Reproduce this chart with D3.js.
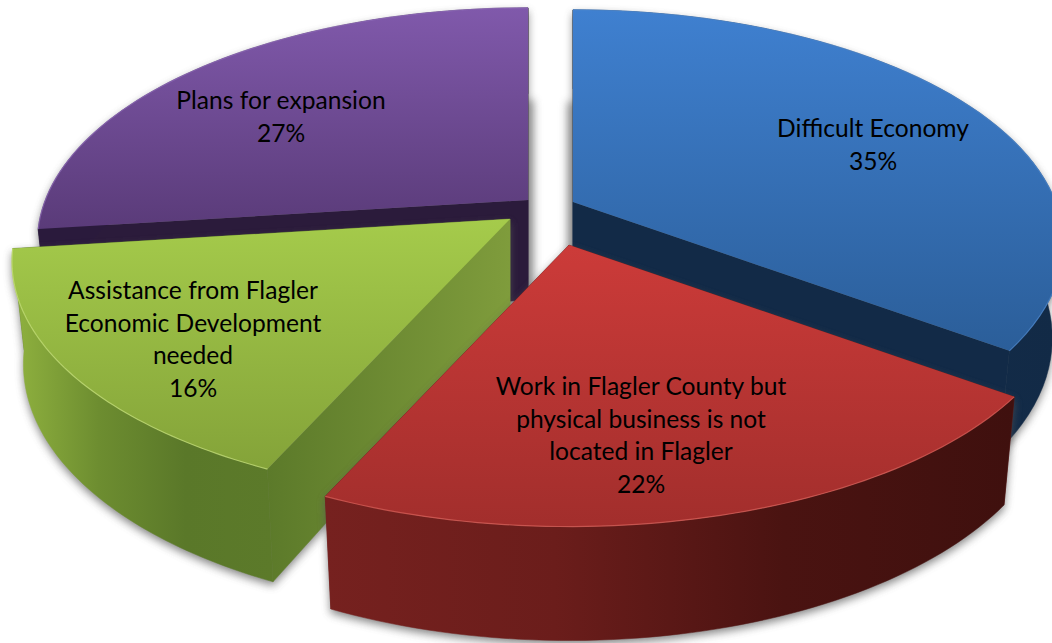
<!DOCTYPE html>
<html><head><meta charset="utf-8">
<script src="https://cdn.jsdelivr.net/npm/d3@7/dist/d3.min.js"></script>
<style>html,body{margin:0;padding:0;background:#fff;overflow:hidden}svg{display:block}</style>
</head><body><svg id="c" width="1052" height="643"></svg>
<script>
const categories = ["Difficult Economy","Work in Flagler County but physical business is not located in Flagler","Assistance from Flagler Economic Development needed","Plans for expansion"];
const values = [35,22,16,27];
const shares = [35,21.8,16.2,27];
const labelLines = [["Difficult Economy"],["Work in Flagler County but","physical business is not","located in Flagler"],["Assistance from Flagler","Economic Development","needed"],["Plans for expansion"]];
const apexX = [573,569,510,528];
const apexY = [202,245,219,200];
const radiusK = [0.985,1.005,1,0.985];
const depthK = [0.92,1,1,1];
const labelX = [873,641,193,281];
const labelY = [129,387,291,101];
const topColors = [["#3f80d0","#2b5e99"],["#cc3b39","#a22e2c"],["#a5cb4b","#84a339"],["#8059ab","#5a3b79"]];
const wallColors = [["#152f4f","#122a46"],["#76211f","#6b1d1b","#4a1311","#3f100e"],["#90b23f","#6d8d30","#5a7829","#5c7a2a"],["#2a1a3c","#2a1a3c"]];
const radialColors = [["#122a47","#122a47"],["#6b1d1b","#6b1d1b"],["#5c7a2a","#7f9c3c"],["#2b1b3b","#2b1b3b"]];
const edgeColors = ["#4b86cc","#d9605a","#c6e07a","#8f6bb8"];
const R = 490, RY = 230, P = 0.179, DEPTH = 100, DEPTH_V = 14, SHRINK = 0.977;

const svg = d3.select("#c");
const defs = svg.append("defs");
defs.append("filter").attr("id","sh").attr("x","-10%").attr("y","-10%").attr("width","120%").attr("height","120%")
  .append("feGaussianBlur").attr("stdDeviation",4);
const pie = d3.pie().sort(null).value(d=>d);
const arcs = pie(shares);
const line = d3.line();

function proj(i,a,r,bottom){
  const u = r*Math.sin(a), v = -r*Math.cos(a), s = 1/(1-P*v), k = radiusK[i];
  let dx = k*R*u*s, dy = k*RY*v*s;
  if(bottom){ dx*=SHRINK; dy += depthK[i]*(DEPTH+DEPTH_V*v); }
  return [apexX[i]+dx, apexY[i]+dy];
}
function rim(i,a0,a1,bottom){
  return d3.range(0,61).map(k=>proj(i,a0+(a1-a0)*k/60,1,bottom));
}
function grad(id,c,x1,y1,x2,y2){
  const g = defs.append("linearGradient").attr("id",id).attr("gradientUnits","userSpaceOnUse")
    .attr("x1",x1).attr("y1",y1).attr("x2",x2).attr("y2",y2);
  c.forEach((col,j)=>g.append("stop").attr("offset",j/(c.length-1)).attr("stop-color",col));
  return `url(#${id})`;
}
// soft shading in the gap between the two rear slices
svg.append("g").attr("filter","url(#sh)").attr("opacity",.6)
  .selectAll("rect").data([3,0]).join("rect")
  .attr("x",i=>apexX[i]-6).attr("width",12)
  .attr("y",i=>apexY[i]-100).attr("height",i=>200).attr("fill","#666");
const order = [3,0,2,1];
order.forEach(i=>{
  const a = arcs[i], g = svg.append("g");
  const top = rim(i,a.startAngle,a.endAngle,false), bot = rim(i,a.startAngle,a.endAngle,true);
  const c0 = proj(i,0,0,false), c1 = proj(i,0,0,true);
  const xs = top.concat(bot).map(p=>p[0]), ys = top.concat([c0]).map(p=>p[1]);
  const [xmin,xmax] = d3.extent(xs), [ymin,ymax] = d3.extent(ys);
  const wallF = grad("w"+i,wallColors[i],xmin,0,xmax,0);
  const radF = grad("r"+i,radialColors[i],top[0][0],0,c0[0],0);
  const topF = grad("t"+i,topColors[i],0,ymin,0,ymax);
  const walls = [
    [c0,top[0],bot[0],c1],
    [c0,top[60],bot[60],c1]
  ];
  const outer = top.concat(bot.slice().reverse());
  const face = [c0].concat(top);
  // soft shadow
  g.append("g").attr("filter","url(#sh)").attr("transform","translate(0,4)").attr("opacity",.7)
    .selectAll("path").data(walls.concat([outer,face])).join("path")
    .attr("d",d=>line(d)+"Z").attr("fill","#555");
  g.selectAll("path.rad").data(walls).join("path").attr("class","rad")
    .attr("d",d=>line(d)+"Z").attr("fill",radF).attr("stroke",radF).attr("stroke-width",.5);
  g.append("path").attr("d",line(outer)+"Z").attr("fill",wallF).attr("stroke",wallF).attr("stroke-width",.5);
  g.append("path").attr("d",line(face)+"Z").attr("fill",topF);
  g.append("path").attr("d",line(top)).attr("fill","none").attr("stroke",edgeColors[i]).attr("stroke-width",1.2).attr("opacity",.75);
});
const labels = svg.append("g").attr("font-family","Lato, 'Open Sans', sans-serif").attr("font-size",24.6).attr("fill","#000").attr("text-anchor","middle");
labelLines.forEach((ls,i)=>{
  const t = labels.append("text").attr("x",labelX[i]).attr("y",labelY[i]);
  ls.concat([values[i]+"%"]).forEach((s,k)=>{
    t.append("tspan").attr("x",labelX[i]).attr("y",labelY[i]+k*32.7+8).text(s);
  });
});
</script></body></html>
